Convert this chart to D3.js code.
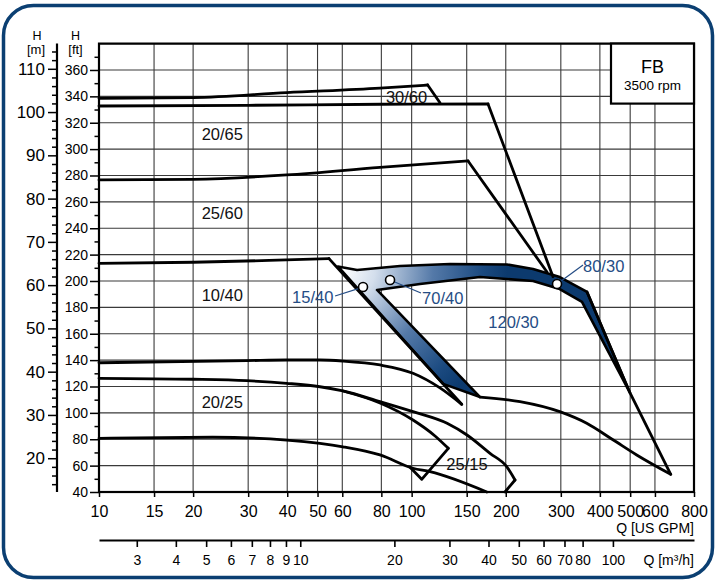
<!DOCTYPE html>
<html>
<head>
<meta charset="utf-8">
<script src="https://cdn.jsdelivr.net/npm/d3@7"></script>
<style>
body { margin: 0; background: #fff; }
svg { display: block; font-family: "Liberation Sans", Arial, Helvetica, sans-serif; }
</style>
</head>
<body>
<svg id="chart" width="717" height="582"></svg>
<script>
// axis ticks
const gpmTicks = [10, 15, 20, 30, 40, 50, 60, 80, 100, 150, 200, 300, 400, 500, 600, 800];
const m3hTicks = [3, 4, 5, 6, 7, 8, 9, 10, 20, 30, 40, 50, 60, 70, 80, 100];
const ftTicks = d3.range(40, 361, 20);
const mTicks = [20, 30, 40, 50, 60, 70, 80, 90, 100, 110];

// pump curves, [Q GPM, H ft]
const curve3060 = [[10, 338.5], [20, 339], [39.85, 342.8], [79.2, 346.2], [112.5, 348.6]];
const drop3060 = [[112.5, 348.6], [123.2, 335.2]];
const curve2065 = [[10, 332.7], [30, 333.2], [80, 334], [175.5, 334.2]];
const drop2065 = [[175.5, 334.2], [283.2, 203.3]];
const curve2560 = [[10, 276.6], [20, 277.1], [39.85, 280.4], [79.2, 286.2], [151.5, 291]];
const drop2560 = [[151.5, 291], [271, 206.8]];
const curve1040 = [[10, 213.4], [20, 214.2], [35, 215.6], [54.4, 217]];
const drop1040 = [[54.4, 217], [144.6, 106.5]];
const curve140 = [[10, 138], [29.7, 139.6], [39.85, 140.1], [50.9, 140.1], [60.3, 139.3], [79.2, 136.3], [101, 130], [123.2, 118.9], [144.6, 106.5]];
const curve2025 = [[10, 126.2], [20, 125.5], [29.7, 124.4], [39.85, 122.4], [50.9, 119.8], [60.3, 116.6], [79.2, 108.5], [101, 100.9], [129.8, 92.1], [150.3, 83.2], [178.1, 69.3], [201.4, 59.2], [214.1, 49.1]];
const hook2025 = [[214.1, 49.1], [198.9, 40]];
const curveMid = [[60.3, 116.6], [79.2, 107.5], [101, 94.6], [118.8, 82.5], [131, 73.1]];
const hookMid = [[131, 73.1], [107.7, 49.6], [98.8, 58.8]];
const curve2515 = [[10, 80.7], [23.1, 81.5], [39.85, 79.4], [50.9, 76.9], [60.3, 74.3], [79.2, 68.1], [101, 58], [114.5, 55.4], [173.9, 40]];
const curve12030 = [[165.5, 112], [222.1, 108.5], [297.6, 100.9], [363, 92.1], [441.6, 79.4], [524.6, 68.1], [674, 53.4]];
const edge8030 = [[363.9, 191.7], [499.4, 115.1], [674, 53.4]];

// shaded range of 15/40, 70/40, 80/30
const bandOuter = [[58.1, 211], [66.9, 208.3], [91.8, 211.4], [132.7, 212.9], [201.8, 212.5], [244.5, 209.1], [297.6, 203], [363.9, 191.7], [499.4, 115.1]];
const bandInner = [[350.6, 184.1], [297.6, 193.9], [244.5, 200], [165.5, 203], [106.3, 197.7], [77.5, 193.2]];
const band1540 = [[165.5, 112], [126, 122]];

const bepPoints = [[69.9, 195.4], [85.3, 200.8], [291.7, 197.7]];

const blackLabels = [
  { t: '30/60', q: 96.3, h: 335 },
  { t: '20/65', q: 24.8, h: 306.9 },
  { t: '25/60', q: 24.8, h: 247 },
  { t: '10/40', q: 24.8, h: 184.8 },
  { t: '20/25', q: 24.8, h: 103.7 },
  { t: '25/15', q: 150.3, h: 56.7 }
];
const blueLabels = [
  { t: '15/40', q: 56.2, h: 183.3, anchor: 'end', from: [56.9, 188.6], to: [69.9, 195.4] },
  { t: '70/40', q: 108, h: 182.6, anchor: 'start', from: [107.1, 190.9], to: [85.3, 200.8] },
  { t: '80/30', q: 353.3, h: 206.8, anchor: 'start', from: [353.3, 212.1], to: [291.7, 197.7] },
  { t: '120/30', q: 211.8, h: 164.4, anchor: 'middle' }
];

const FT_PER_M = 3.28084;
const GPM_PER_M3H = 4.40287;
const blue = '#254d85';

const svg = d3.select('#chart');
const x = d3.scaleLog().domain([10, 800]).range([99, 694]);
const y = d3.scaleLinear().domain([40, 380]).range([492, 43.6]);
const yM = d3.scaleLinear().domain([40 / FT_PER_M, 380 / FT_PER_M]).range([492, 43.6]);
const xM3 = d3.scaleLog().domain([10 / GPM_PER_M3H, 800 / GPM_PER_M3H]).range([99, 694]);

// outer frame
svg.append('rect')
  .attr('x', 3.5).attr('y', 5.5).attr('width', 709).attr('height', 572)
  .attr('rx', 30).attr('fill', 'none').attr('stroke', '#0b3f72').attr('stroke-width', 3.5);

// grid
const grid = svg.append('g').attr('stroke', '#3a3a3a').attr('stroke-width', 1.1);
grid.selectAll('.vg').data(gpmTicks.slice(1, -1)).join('line')
  .attr('x1', d => x(d)).attr('x2', d => x(d)).attr('y1', y(380)).attr('y2', y(40));
grid.selectAll('.hg').data(ftTicks.slice(1).concat([380])).join('line')
  .attr('x1', x(10)).attr('x2', x(800)).attr('y1', d => y(d)).attr('y2', d => y(d));

const pt = d => [x(d[0]), y(d[1])];
const smooth = d3.line().x(d => x(d[0])).y(d => y(d[1])).curve(d3.curveMonotoneX);
const straight = d3.line().x(d => x(d[0])).y(d => y(d[1]));

// band fill
const defs = svg.append('defs');
const grad = defs.append('radialGradient').attr('id', 'bandGrad')
  .attr('gradientUnits', 'userSpaceOnUse')
  .attr('cx', x(60)).attr('cy', y(209)).attr('r', 165);
grad.append('stop').attr('offset', 0).attr('stop-color', '#ffffff');
grad.append('stop').attr('offset', 0.2).attr('stop-color', '#d3deec');
grad.append('stop').attr('offset', 0.55).attr('stop-color', '#5479a8');
grad.append('stop').attr('offset', 0.85).attr('stop-color', '#1b4a80');
grad.append('stop').attr('offset', 1).attr('stop-color', '#0c3a6e');

const bandPoly = bandOuter.concat(bandInner, band1540);
svg.append('path')
  .attr('d', 'M' + bandPoly.map(pt).join('L') + 'Z')
  .attr('fill', 'url(#bandGrad)').attr('stroke', '#000').attr('stroke-width', 2.6)
  .attr('stroke-linejoin', 'round');

// curves
const curves = svg.append('g').attr('fill', 'none').attr('stroke', '#000')
  .attr('stroke-width', 2.8).attr('stroke-linejoin', 'round').attr('stroke-linecap', 'round');
[curve3060, curve2065, curve2560, curve1040, curve140, curve2025, curveMid, curve2515, curve12030]
  .forEach(c => curves.append('path').attr('d', smooth(c)));
[drop3060, drop2065, drop2560, drop1040, hook2025, hookMid, edge8030]
  .forEach(c => curves.append('path').attr('d', straight(c)));

// labels
svg.append('g').attr('font-size', 16.5).attr('text-anchor', 'middle').attr('fill', '#111')
  .selectAll('text').data(blackLabels).join('text')
  .attr('x', d => x(d.q)).attr('y', d => y(d.h)).text(d => d.t);

const bl = svg.append('g');
bl.selectAll('line').data(blueLabels.filter(d => d.from)).join('line')
  .attr('x1', d => x(d.from[0])).attr('y1', d => y(d.from[1]))
  .attr('x2', d => x(d.to[0])).attr('y2', d => y(d.to[1]))
  .attr('stroke', blue).attr('stroke-width', 1.2);
bl.selectAll('text').data(blueLabels).join('text')
  .attr('x', d => x(d.q)).attr('y', d => y(d.h)).attr('text-anchor', d => d.anchor)
  .attr('font-size', 16.5).attr('fill', blue).text(d => d.t);

svg.append('g').selectAll('circle').data(bepPoints).join('circle')
  .attr('cx', d => x(d[0])).attr('cy', d => y(d[1])).attr('r', 4.5)
  .attr('fill', '#fff').attr('stroke', '#000').attr('stroke-width', 1.6);

// plot frame
svg.append('rect').attr('x', x(10)).attr('y', y(380)).attr('width', x(800) - x(10)).attr('height', y(40) - y(380))
  .attr('fill', 'none').attr('stroke', '#000').attr('stroke-width', 2.2);

// legend box
const lg = svg.append('g');
lg.append('rect').attr('x', 611).attr('y', y(380)).attr('width', x(800) - 611).attr('height', 60)
  .attr('fill', '#fff').attr('stroke', '#000').attr('stroke-width', 2.2);
lg.append('text').attr('x', 652.5).attr('y', 73).attr('text-anchor', 'middle').attr('font-size', 18).text('FB');
lg.append('text').attr('x', 652.5).attr('y', 90).attr('text-anchor', 'middle').attr('font-size', 13.5).text('3500 rpm');

// H ft axis
function styleAxis(g, fs) {
  g.select('.domain').remove();
  g.selectAll('.tick line').attr('stroke', '#000').attr('stroke-width', 1.5);
  g.selectAll('.tick text').attr('fill', '#000').attr('font-size', fs)
    .attr('font-family', '"Liberation Sans", Arial, Helvetica, sans-serif');
}
svg.append('g').attr('transform', `translate(${x(10)},0)`)
  .call(d3.axisLeft(y).tickValues(ftTicks).tickSize(9).tickPadding(2).tickFormat(d3.format('d')))
  .call(g => styleAxis(g, 14));
svg.append('g').attr('transform', `translate(${x(10)},0)`)
  .call(d3.axisLeft(y).tickValues(d3.range(50, 380, 20)).tickSize(4.5).tickFormat(''))
  .call(g => styleAxis(g, 14));

// H m axis
const mAxis = svg.append('g').attr('transform', 'translate(57,0)');
mAxis.call(d3.axisLeft(yM).tickValues(mTicks).tickSize(9).tickPadding(3).tickFormat(d3.format('d')))
  .call(g => styleAxis(g, 17));
svg.append('g').attr('transform', 'translate(57,0)')
  .call(d3.axisLeft(yM).tickValues(d3.range(14, 116, 2).filter(d => d % 10 !== 0)).tickSize(5).tickFormat(''))
  .call(g => styleAxis(g, 14));
svg.append('line').attr('x1', 57).attr('x2', 57).attr('y1', yM.range()[1]).attr('y2', yM.range()[0])
  .attr('stroke', '#000').attr('stroke-width', 2.2);

svg.append('text').attr('x', 37).attr('y', 40).attr('text-anchor', 'middle').attr('font-size', 12.5).text('H');
svg.append('text').attr('x', 36).attr('y', 54).attr('text-anchor', 'middle').attr('font-size', 13).text('[m]');
svg.append('text').attr('x', 75.5).attr('y', 40).attr('text-anchor', 'middle').attr('font-size', 12.5).text('H');
svg.append('text').attr('x', 75.5).attr('y', 54).attr('text-anchor', 'middle').attr('font-size', 13).text('[ft]');

// Q GPM axis
svg.append('g').attr('transform', `translate(0,${y(40)})`)
  .call(d3.axisBottom(x).tickValues(gpmTicks).tickSize(5).tickPadding(9).tickFormat(d3.format('d')))
  .call(g => styleAxis(g, 16));
svg.append('text').attr('x', 694).attr('y', 533).attr('text-anchor', 'end').attr('font-size', 14).text('Q [US GPM]');

// Q m3/h axis
svg.append('g').attr('transform', 'translate(0,540)')
  .call(d3.axisBottom(xM3).tickValues(m3hTicks).tickSize(7).tickSizeOuter(0).tickPadding(8).tickFormat(d3.format('d')))
  .call(g => {
    g.selectAll('.tick line').attr('stroke', '#000').attr('stroke-width', 1.6);
    g.selectAll('.tick text').attr('fill', '#000').attr('font-size', 14)
      .attr('font-family', '"Liberation Sans", Arial, Helvetica, sans-serif');
    g.select('.domain').attr('stroke', '#000').attr('stroke-width', 2.2);
  });
svg.append('text').attr('x', 694).attr('y', 565).attr('text-anchor', 'end').attr('font-size', 14).text('Q [m³/h]');
</script>
</body>
</html>
